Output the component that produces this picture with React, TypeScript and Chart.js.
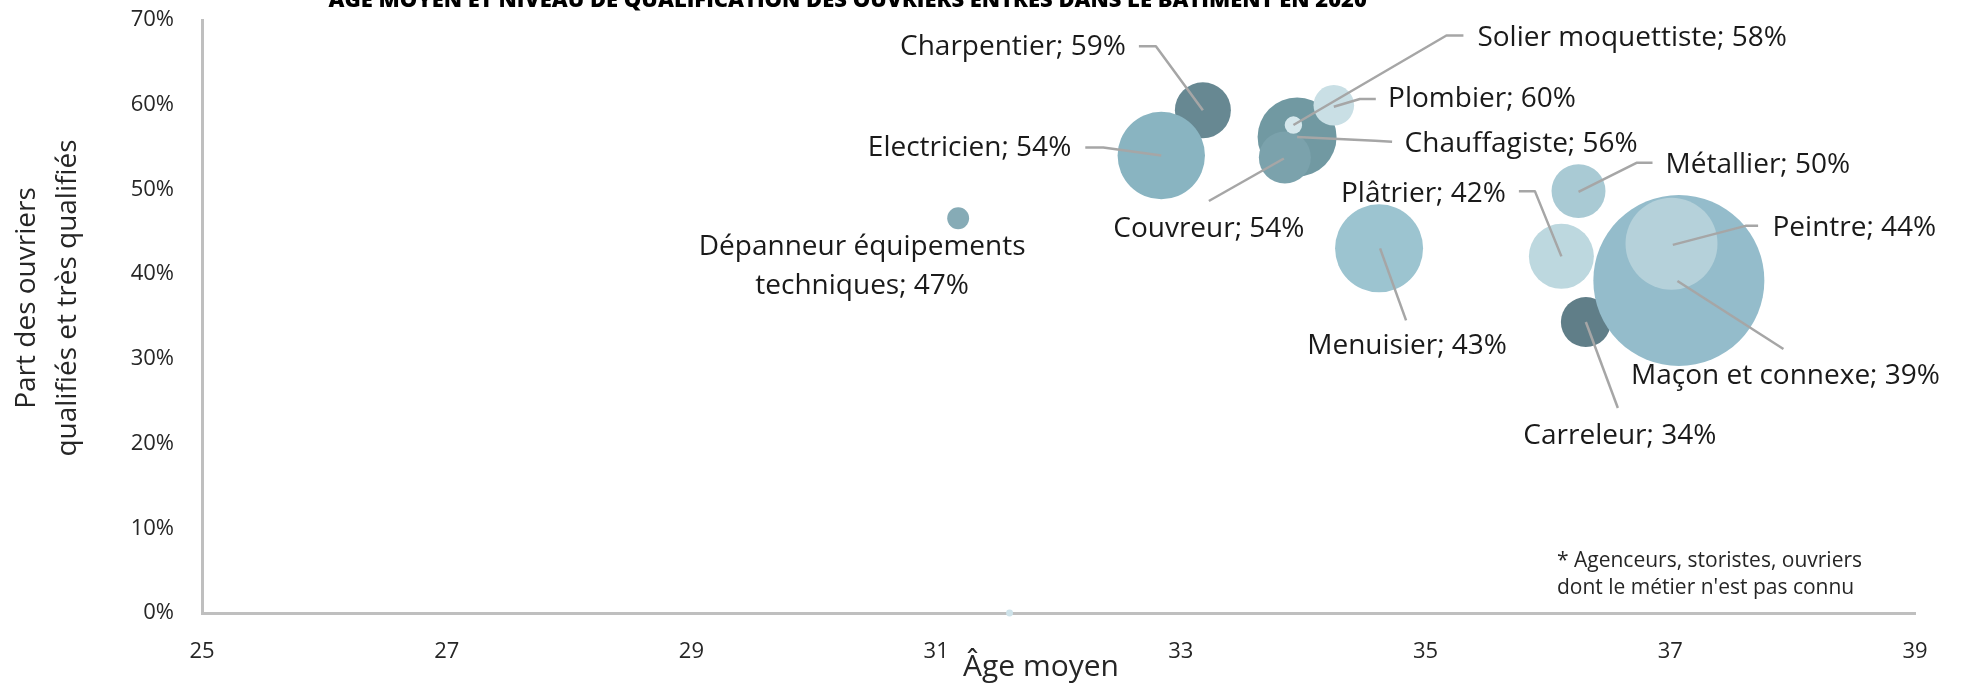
import React, { useEffect, useRef } from 'react';
import { Chart, registerables } from 'chart.js';

Chart.register(...registerables);

// ---------- Données ----------
const titre = 'ÂGE MOYEN ET NIVEAU DE QUALIFICATION DES OUVRIERS ENTRÉS DANS LE BÂTIMENT EN 2020';
const metiers = [
  'Charpentier',
  'Electricien',
  'Chauffagiste',
  'Couvreur',
  'Solier moquettiste',
  'Plombier',
  'Dépanneur équipements\ntechniques',
  'Menuisier',
  'Plâtrier',
  'Métallier',
  'Carreleur',
  'Maçon et connexe',
  'Peintre',
  'Autres*',
];
// Âge moyen (axe x)
const ageMoyen = [33.18, 32.84, 33.95, 33.85, 33.92, 34.25, 31.18, 34.62, 36.11, 36.25, 36.31, 37.07, 37.01, 31.6];
// Part des ouvriers qualifiés et très qualifiés, en % (axe y)
const partQualifies = [59.34, 54.0, 56.19, 53.77, 57.6, 59.93, 46.6, 43.05, 42.1, 49.8, 34.35, 39.25, 43.6, 0];
// Taille des bulles (effectifs, unités estimées)
const effectifs = [196, 477, 390, 169, 19, 103, 30, 484, 264, 182, 156, 1828, 529, 3];
const montrerEtiquette = [true, true, true, true, true, true, true, true, true, true, true, true, true, false];

const xMin = 25;
const xMax = 39;
const xPas = 2;
const yMin = 0;
const yMax = 70;
const yPas = 10;
const titreX = 'Âge moyen';
const titreY = ['Part des ouvriers', 'qualifiés et très qualifiés'];
const noteBas = ['* Agenceurs, storistes, ouvriers', "dont le métier n'est pas connu"];

// ---------- Styles ----------
const couleurs = [
  '#678892', '#89b4c1', '#7199a2', '#7ba2ac', '#d5e7ec', '#c9dfe5', '#86abb6',
  '#9cc4d0', '#bdd8df', '#a9cad4', '#607e88', '#94bccb', '#b5d1da', '#cfe3ea',
];
const echelleRayon = 2;

type Etiq = { dx: number; dy: number; align: CanvasTextAlign; leader?: number[][] };
const placement: (Etiq | null)[] = [
  { dx: -77, dy: -63, align: 'right', leader: [[-64, -64], [-47, -64], [0, 0]] },
  { dx: -90, dy: -7.5, align: 'right', leader: [[-76, -8], [-58, -8], [0, 0]] },
  { dx: 107.5, dy: 6.7, align: 'left', leader: [[95, 4.7], [78, 3.7], [0, 0]] },
  { dx: -76, dy: 71.5, align: 'center', leader: [[-76, 43.5], [-1, 1]] },
  { dx: 184, dy: -87.5, align: 'left', leader: [[170, -89.5], [153, -89.5], [0, 0]] },
  { dx: 54.3, dy: -5.8, align: 'left', leader: [[42, -6.3], [26, -6.3], [0, 1.4]] },
  { dx: -96, dy: 29, align: 'center' },
  { dx: 28, dy: 97.7, align: 'center', leader: [[27, 72], [1, 0]] },
  { dx: -55.5, dy: -62.7, align: 'right', leader: [[-42.5, -65.2], [-26.5, -65.2], [0, 0]] },
  { dx: 87, dy: -26.5, align: 'left', leader: [[74, -28.3], [58, -28.3], [0, 0.7]] },
  { dx: 34, dy: 114, align: 'center', leader: [[32, 86], [0, 0]] },
  { dx: 106.6, dy: 95.5, align: 'center', leader: [[104.6, 68.5], [-1.4, 0.5]] },
  { dx: 101, dy: -15.8, align: 'left', leader: [[86.6, -17.8], [74, -17.8], [1.3, 1.2]] },
  null,
];

const FONT = '"Open Sans", "DejaVu Sans", sans-serif';

const etiquettesPlugin = {
  id: 'etiquettes',
  afterDatasetsDraw(chart: any) {
    const ctx: CanvasRenderingContext2D = chart.ctx;
    const meta = chart.getDatasetMeta(0);
    ctx.save();
    meta.data.forEach((el: any, i: number) => {
      const L = placement[i];
      if (!L || !montrerEtiquette[i]) return;
      const x = el.x;
      const y = el.y;
      if (L.leader) {
        ctx.beginPath();
        ctx.strokeStyle = '#a6a6a6';
        ctx.lineWidth = 2.5;
        ctx.lineJoin = 'round';
        L.leader.forEach(([dx, dy], k) => {
          if (k === 0) ctx.moveTo(x + dx, y + dy);
          else ctx.lineTo(x + dx, y + dy);
        });
        ctx.stroke();
      }
      const texte = `${metiers[i]}; ${Math.round(partQualifies[i])}%`;
      const lignes = texte.split('\n');
      ctx.font = `28px ${FONT}`;
      ctx.fillStyle = '#1a1a1a';
      ctx.textAlign = L.align;
      ctx.textBaseline = 'middle';
      lignes.forEach((t, k) => ctx.fillText(t, x + L.dx, y + L.dy + k * 39));
    });
    ctx.restore();
  },
  afterDraw(chart: any) {
    const ctx: CanvasRenderingContext2D = chart.ctx;
    const a = chart.chartArea;
    ctx.save();
    // Titre (coupé en haut)
    ctx.font = `800 20px ${FONT}`;
    const w = ctx.measureText(titre).width;
    const taille = (20 * 1039) / w;
    ctx.font = `800 ${taille}px ${FONT}`;
    ctx.fillStyle = '#000';
    ctx.textAlign = 'left';
    ctx.textBaseline = 'alphabetic';
    ctx.fillText(titre, a.left + 126.5, 7);

    // Titre axe x
    ctx.font = `30px ${FONT}`;
    ctx.fillStyle = '#262626';
    ctx.textAlign = 'center';
    ctx.textBaseline = 'middle';
    ctx.fillText(titreX, a.left + 839, a.bottom + 54);

    // Titre axe y
    ctx.save();
    ctx.translate(0, a.top + 278);
    ctx.rotate(-Math.PI / 2);
    ctx.font = `28px ${FONT}`;
    ctx.textBaseline = 'alphabetic';
    ctx.textAlign = 'center';
    ctx.fillText(titreY[0], 0, 35);
    ctx.fillText(titreY[1], 0, 76);
    ctx.restore();

    // Note
    ctx.font = `21px ${FONT}`;
    ctx.fillStyle = '#262626';
    ctx.textAlign = 'left';
    ctx.textBaseline = 'middle';
    noteBas.forEach((t, k) => ctx.fillText(t, a.right - 358, a.bottom - 52 + k * 27));
    ctx.restore();
  },
};

export default function App() {
  const ref = useRef<HTMLCanvasElement | null>(null);
  useEffect(() => {
    document.body.style.margin = '0';
    const canvas = ref.current;
    if (!canvas) return;
    const data = ageMoyen.map((x, i) => ({ x, y: partQualifies[i], r: echelleRayon * Math.sqrt(effectifs[i]) }));
    const chart = new Chart(canvas, {
      type: 'bubble',
      data: {
        datasets: [
          {
            label: 'Métiers',
            data,
            backgroundColor: couleurs,
            borderWidth: 0,
            clip: false as any,
          },
        ],
      },
      options: {
        responsive: false,
        animation: false,
        devicePixelRatio: 1,
        events: [],
        layout: { autoPadding: false, padding: { left: 0, right: 51, top: 20, bottom: 0 } },
        plugins: { legend: { display: false }, tooltip: { enabled: false }, title: { display: false } },
        scales: {
          x: {
            type: 'linear',
            min: xMin,
            max: xMax,
            ticks: { stepSize: xPas, color: '#262626', font: { family: 'Open Sans', size: 22 }, padding: 26 },
            grid: { display: false, drawTicks: false },
            border: { display: true, color: '#bfbfbf', width: 3 },
            afterFit(s: any) {
              s.height = 74;
              s.paddingLeft = 0;
              s.paddingRight = 0;
            },
          },
          y: {
            type: 'linear',
            min: yMin,
            max: yMax,
            ticks: {
              stepSize: yPas,
              color: '#262626',
              font: { family: 'Open Sans', size: 22 },
              padding: 28,
              callback: (v: any) => `${v}%`,
            },
            grid: { display: false, drawTicks: false },
            border: { display: true, color: '#bfbfbf', width: 3 },
            afterFit(s: any) {
              s.width = 202;
              s.paddingTop = 0;
              s.paddingBottom = 0;
            },
          },
        },
      },
      plugins: [etiquettesPlugin],
    });
    return () => chart.destroy();
  }, []);
  return (
    <div style={{ width: 1966, height: 687, overflow: 'hidden', background: '#fff' }}>
      <canvas ref={ref} width={1966} height={687} style={{ display: 'block' }} />
    </div>
  );
}
